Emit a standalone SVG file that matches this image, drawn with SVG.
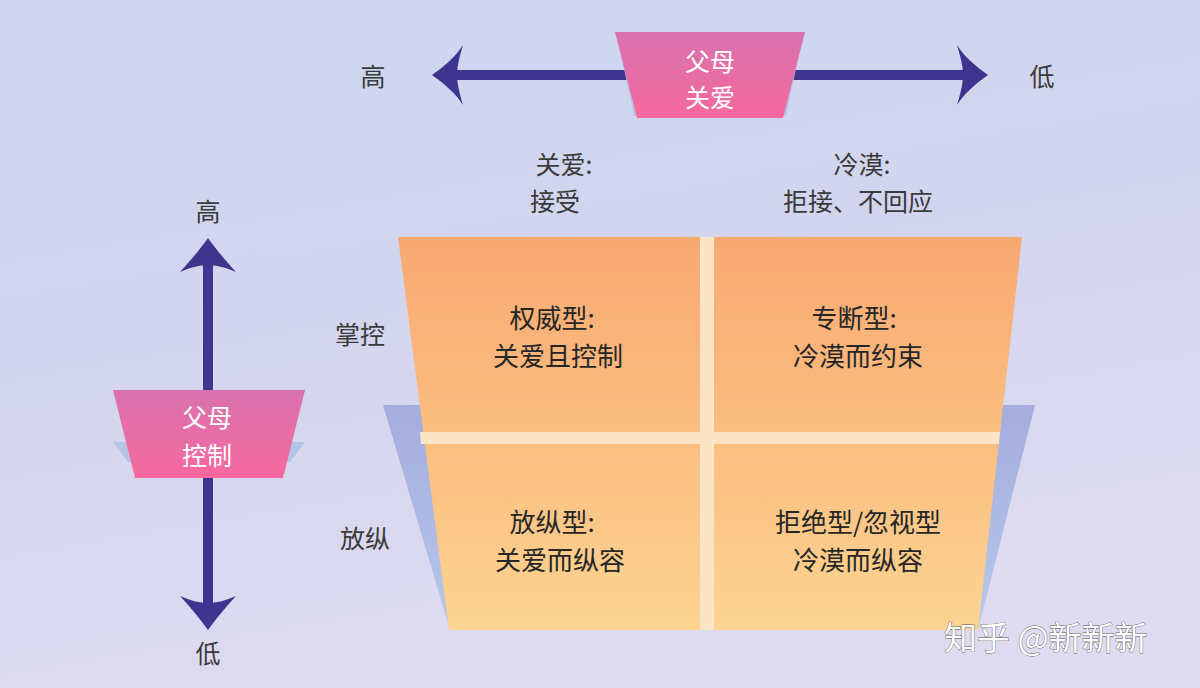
<svg xmlns="http://www.w3.org/2000/svg" width="1200" height="688" viewBox="0 0 1200 688">
<defs>
<linearGradient id="bg" x1="0" y1="0" x2="0.3" y2="1">
<stop offset="0" stop-color="#cdd6ef"/>
<stop offset="0.5" stop-color="#d3d5ee"/>
<stop offset="1" stop-color="#dedbf0"/>
</linearGradient>
<linearGradient id="pink" x1="0" y1="0" x2="0" y2="1">
<stop offset="0" stop-color="#d872ae"/>
<stop offset="1" stop-color="#f7689e"/>
</linearGradient>
<linearGradient id="orange" x1="0" y1="0" x2="0" y2="1">
<stop offset="0" stop-color="#f8a972"/>
<stop offset="0.5" stop-color="#fbbd80"/>
<stop offset="1" stop-color="#fdd491"/>
</linearGradient>
<linearGradient id="blueTrap" x1="0" y1="0" x2="0" y2="1">
<stop offset="0" stop-color="#a4acdf"/>
<stop offset="1" stop-color="#b8c8ea"/>
</linearGradient>
<style>
.lbl{font-family:"Noto Sans CJK SC","Noto Sans",sans-serif;font-size:25px;fill:#3a3a3a;text-anchor:middle;dominant-baseline:central}
.q{font-family:"Noto Sans CJK SC","Noto Sans",sans-serif;font-size:26px;fill:#262626;text-anchor:middle;dominant-baseline:central}
.w{font-family:"Noto Sans CJK SC","Noto Sans",sans-serif;font-size:25px;fill:#ffffff;text-anchor:middle;dominant-baseline:central}
.axis{fill:#3f358f}
.shadow{fill:#a9c0e4;opacity:0.8}
.wm{font-family:"Noto Sans CJK SC","Noto Sans",sans-serif;font-size:33px;fill:#ffffff;stroke:#555;stroke-width:0.8;paint-order:stroke}
</style>
</defs>
<rect width="1200" height="688" fill="url(#bg)"/>

<g id="connectors">
<g id="axis-love">
<rect class="axis" x="450" y="70" width="520" height="10"/>
<path class="axis" d="M432,75 C446,65 456,56 463,45 C459,58 457,68 457,75 C457,82 459,92 463,105 C456,94 446,85 432,75 Z"/>
<path class="axis" d="M988,75 C974,65 964,56 957,45 C961,58 963,68 963,75 C963,82 961,92 957,105 C964,94 974,85 988,75 Z"/>
</g>
<g id="axis-control">
<rect class="axis" x="203" y="258" width="10" height="352"/>
<path class="axis" d="M208,238 C198,252 189,262 180,272 C192,267 200,265 208,265 C216,265 224,267 236,272 C227,262 218,252 208,238 Z"/>
<path class="axis" d="M208,630 C198,616 189,606 180,596 C192,601 200,603 208,603 C216,603 224,601 236,596 C227,606 218,616 208,630 Z"/>
</g>
</g>

<g id="node-love">
<path class="shadow" d="M622,60 L798,60 L786,116 L634,116 Z"/>
<path d="M615,32 L805,32 L783,118 L637,118 Z" fill="url(#pink)"/>
<text class="w" x="710" y="60">父母</text>
<text class="w" x="710" y="96">关爱</text>
</g>

<g id="node-control">
<path class="shadow" d="M113,442 L305,442 L290,462 L128,462 Z"/>
<path d="M113,390 L305,390 L283,478 L135,478 Z" fill="url(#pink)"/>
<text class="w" x="207" y="416">父母</text>
<text class="w" x="207" y="454">控制</text>
</g>

<g id="axis-labels">
<text class="lbl" x="373" y="75">高</text>
<text class="lbl" x="1042" y="75">低</text>
<text class="lbl" x="208" y="210">高</text>
<text class="lbl" x="208" y="652">低</text>
<text class="lbl" x="564" y="163">关爱:</text>
<text class="lbl" x="555" y="200">接受</text>
<text class="lbl" x="862" y="163">冷漠:</text>
<text class="lbl" x="858" y="200">拒接、不回应</text>
<text class="lbl" x="360" y="333">掌控</text>
<text class="lbl" x="365" y="537">放纵</text>
</g>

<g id="matrix">
<path d="M383,405 L1035,405 L978,630 L450,630 Z" fill="url(#blueTrap)"/>
<path d="M398,237 L1022,237 L978,630 L449,630 Z" fill="url(#orange)"/>
<rect x="700" y="237" width="14" height="393" fill="#fbe5c6"/>
<path d="M420,432 L1000,432 L999,444 L421,444 Z" fill="#fbe5c6"/>
</g>

<g id="q-authoritative">
<text class="q" x="552" y="316">权威型:</text>
<text class="q" x="558" y="354">关爱且控制</text>
</g>
<g id="q-authoritarian">
<text class="q" x="854" y="316">专断型:</text>
<text class="q" x="858" y="354">冷漠而约束</text>
</g>
<g id="q-permissive">
<text class="q" x="552" y="520">放纵型:</text>
<text class="q" x="560" y="558">关爱而纵容</text>
</g>
<g id="q-neglectful">
<text class="q" x="858" y="520">拒绝型/忽视型</text>
<text class="q" x="858" y="558">冷漠而纵容</text>
</g>

<g id="watermark">
<text class="wm" x="944" y="650">知乎 @新新新</text>
</g>
</svg>
